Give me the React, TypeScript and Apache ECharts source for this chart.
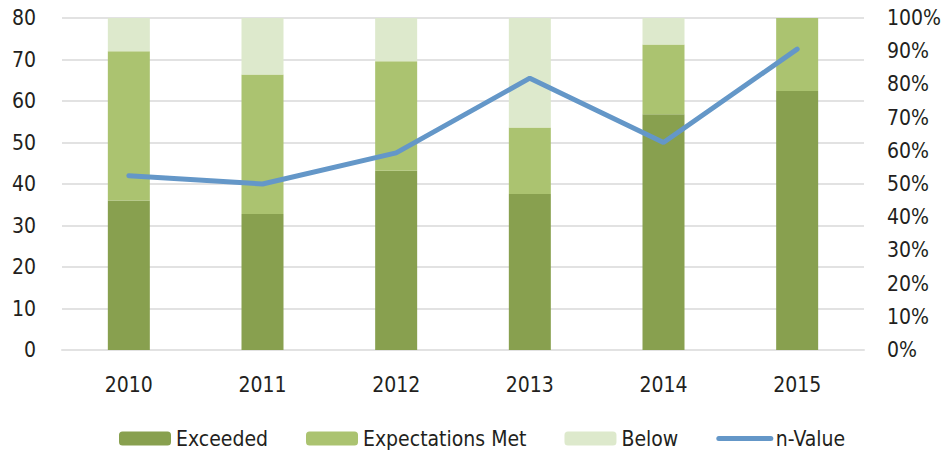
import React, { useEffect, useRef } from "react";
import * as echarts from "echarts";

const years = ["2010", "2011", "2012", "2013", "2014", "2015"];
const exceeded = [45, 41, 54, 47, 71, 78];
const expectationsMet = [45, 42, 33, 20, 21, 22];
const below = [10, 17, 13, 33, 8, 0];
const nValue = [42, 40, 47.5, 65.5, 50, 72.5];

const FONT = "'DejaVu Sans Condensed', 'Noto Sans', sans-serif";
const TEXT = "#231f20";

export default function App() {
  const ref = useRef<HTMLDivElement>(null);
  useEffect(() => {
    if (!ref.current) return;
    const chart = echarts.init(ref.current, undefined, { renderer: "svg" });
    const grid = { lineStyle: { color: "#e2e2e2", width: 2 } };
    chart.setOption({
      animation: false,
      textStyle: { fontFamily: FONT },
      grid: { left: 62, right: 82, top: 18, bottom: 101 },
      legend: {
        left: 119,
        top: 428,
        padding: 0,
        itemWidth: 52,
        itemHeight: 14,
        itemGap: 38,
        textStyle: { fontFamily: FONT, fontSize: 21, color: TEXT },
        data: [
          "Exceeded",
          "Expectations Met",
          "Below",
          { name: "n-Value", itemStyle: { opacity: 0 }, lineStyle: { width: 5, cap: "round" } },
        ],
      },
      xAxis: {
        type: "category",
        data: years,
        axisLine: { lineStyle: { color: "#e2e2e2", width: 2 } },
        axisTick: { show: false },
        axisLabel: { color: TEXT, fontSize: 21, fontFamily: FONT, margin: 24 },
      },
      yAxis: [
        {
          type: "value",
          min: 0,
          max: 80,
          interval: 10,
          axisLine: { show: false },
          axisTick: { show: false },
          splitLine: grid,
          axisLabel: { color: TEXT, fontSize: 21, fontFamily: FONT, margin: 26 },
        },
        {
          type: "value",
          min: 0,
          max: 100,
          interval: 10,
          position: "right",
          axisLine: { show: false },
          axisTick: { show: false },
          splitLine: { show: false },
          axisLabel: { color: TEXT, fontSize: 21, fontFamily: FONT, margin: 23, formatter: "{value}%" },
        },
      ],
      series: [
        {
          name: "Exceeded",
          type: "bar",
          stack: "s",
          yAxisIndex: 1,
          barWidth: 42,
          data: exceeded,
          itemStyle: { color: "#88a04f" },
        },
        {
          name: "Expectations Met",
          type: "bar",
          stack: "s",
          yAxisIndex: 1,
          barWidth: 42,
          data: expectationsMet,
          itemStyle: { color: "#abc370" },
        },
        {
          name: "Below",
          type: "bar",
          stack: "s",
          yAxisIndex: 1,
          barWidth: 42,
          data: below,
          itemStyle: { color: "#dde9cc" },
        },
        {
          name: "n-Value",
          type: "line",
          yAxisIndex: 0,
          data: nValue,
          symbol: "none",
          lineStyle: { color: "#6497c8", width: 5, cap: "round" },
          itemStyle: { color: "#6497c8" },
        },
      ],
    });
    return () => chart.dispose();
  }, []);
  return <div ref={ref} style={{ width: 946, height: 451, position: "absolute", left: 0, top: 0 }} />;
}
